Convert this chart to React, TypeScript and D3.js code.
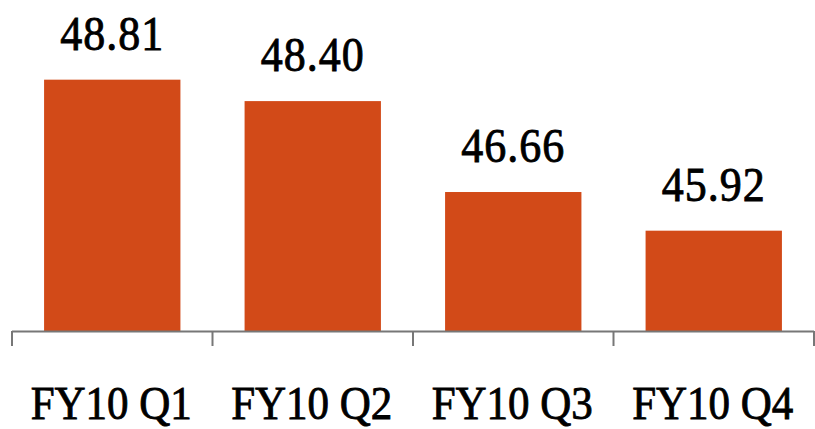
import React from "react";
import * as d3 from "d3";

const categories = ["FY10 Q1", "FY10 Q2", "FY10 Q3", "FY10 Q4"];
const values = [48.81, 48.4, 46.66, 45.92];
const valueLabels = ["48.81", "48.40", "46.66", "45.92"];

const W = 815;
const H = 429;

export default function App() {
  const x = d3.scaleBand<string>().domain(categories).range([12, 814]).paddingInner(0.32).paddingOuter(0.16);
  const y = d3.scaleLinear().domain([44, 50]).range([331, 17.5]);
  const step = x.step();
  const ticks = categories.map((_, i) => 12 + i * step).concat([814]);
  const font = "'Liberation Serif', 'Times New Roman', serif";
  const sy = 1.1;

  return (
    <svg width={W} height={H} style={{ position: "absolute", left: 0, top: 0 }}>
      {categories.map((c, i) => (
        <rect key={c} x={x(c)} y={y(values[i])} width={x.bandwidth()} height={y(44) - y(values[i])} fill="#D24A18" />
      ))}
      {categories.map((c, i) => {
        const cx = (x(c) as number) + x.bandwidth() / 2;
        const by = y(values[i]) - 30;
        return (
          <text
            key={"v" + c}
            transform={`translate(${cx},${by}) scale(1,${sy})`}
            textAnchor="middle"
            fontFamily={font}
            fontSize={44}
            letterSpacing={1}
            stroke="#000"
            strokeWidth={0.8}
            fill="#000"
          >
            {valueLabels[i]}
          </text>
        );
      })}
      <line x1={12} x2={814} y1={331.5} y2={331.5} stroke="#777" strokeWidth={2} />
      {ticks.map((t, i) => (
        <line key={i} x1={t} x2={t} y1={331} y2={346} stroke="#777" strokeWidth={2} />
      ))}
      {categories.map((c) => {
        const cx = (x(c) as number) + x.bandwidth() / 2;
        return (
          <text
            key={"c" + c}
            transform={`translate(${cx - 1},${419}) scale(1,${sy})`}
            textAnchor="middle"
            fontFamily={font}
            fontSize={43}
            stroke="#000"
            strokeWidth={0.8}
            fill="#000"
          >
            {c}
          </text>
        );
      })}
    </svg>
  );
}
